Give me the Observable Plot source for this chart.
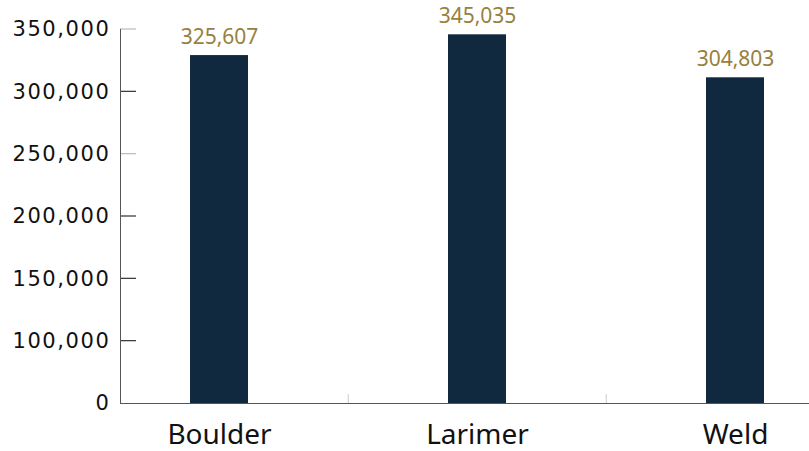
<!DOCTYPE html>
<html>
<head>
<meta charset="utf-8">
<script src="https://cdn.jsdelivr.net/npm/d3@7"></script>
<script src="https://cdn.jsdelivr.net/npm/@observablehq/plot@0.6"></script>
<style>
  html, body { margin: 0; padding: 0; background: #fff; }
  #chart svg { display: block; }
  #chart g[aria-label="y-axis tick label"] text { letter-spacing: 1.6px; }
</style>
</head>
<body>
<div id="chart"></div>
<script>
// Data
const categories = ["Boulder", "Larimer", "Weld"];
const population = [325607, 345035, 304803];
// Y-axis tick labels as shown (evenly spaced along the axis)
const yTickLabels = ["0", "100,000", "150,000", "200,000", "250,000", "300,000", "350,000"];
const yMax = 350000;
const lightTickLabels = ["350,000", "250,000"];

const data = categories.map((c, i) => ({county: c, value: population[i]}));
const fmt = d3.format(",");

const W = 809, H = 451;
const mLeft = 120, mRight = 1, mTop = 29, mBottom = 48;
const xRange = [120, 833];
const step = (xRange[1] - xRange[0]) / (categories.length - 0.7756 + 2 * 0.267);
const yTickLen = 16;
const frameWidth = W - mLeft - mRight;

// evenly spaced tick positions, one per label
const yTicks = yTickLabels.map((_, i) => i * yMax / (yTickLabels.length - 1));
const labelOf = v => yTickLabels[yTicks.indexOf(v)];
const lightTicks = yTicks.filter(v => v > 0 && lightTickLabels.includes(labelOf(v)));
const darkTicks = yTicks.filter(v => v > 0 && !lightTickLabels.includes(labelOf(v)));

const tickRect = (ticks, color) => Plot.rect(ticks, {
  y1: d => d, y2: d => d, insetTop: -0.6, insetBottom: -0.6,
  insetRight: frameWidth - yTickLen, fill: color
});

const chart = Plot.plot({
  width: W,
  height: H,
  marginLeft: mLeft,
  marginRight: mRight,
  marginTop: mTop,
  marginBottom: mBottom,
  style: {background: "#fff", overflow: "visible"},
  x: {type: "band", domain: categories, range: xRange, paddingInner: 0.7756, paddingOuter: 0.267, axis: null, label: null},
  y: {domain: [0, yMax], axis: null, label: null},
  marks: [
    Plot.barY(data, {x: "county", y: "value", fill: "#10293e"}),
    Plot.text(data, {x: "county", y: "value", text: d => fmt(d.value), dy: -12, lineAnchor: "bottom",
      fill: "#98803e", fontSize: 21, fontFamily: "Noto Sans"}),
    // y axis: labels
    Plot.axisY(yTicks, {anchor: "left", label: null, tickSize: 0, tickPadding: 10, tickFormat: labelOf,
      fontSize: 21, fontFamily: "DejaVu Sans", fill: "#111"}),
    // y axis: short ticks pointing into the plot
    tickRect(darkTicks, "#333"),
    tickRect(lightTicks, "#bbb"),
    // x axis labels
    Plot.axisX(categories, {anchor: "bottom", label: null, tickSize: 0, tickPadding: 21, fontSize: 28,
      fontFamily: "Noto Sans", fill: "#111"}),
    // separator ticks between categories
    Plot.axisX(categories.slice(1), {anchor: "bottom", label: null, tickSize: 9, dy: -9, text: null, dx: -step / 2, stroke: "#c8ccd0"}),
    Plot.frame({anchor: "left", stroke: "#555"}),
    Plot.frame({anchor: "bottom", stroke: "#555"})
  ]
});
document.getElementById("chart").appendChild(chart);
</script>
</body>
</html>
